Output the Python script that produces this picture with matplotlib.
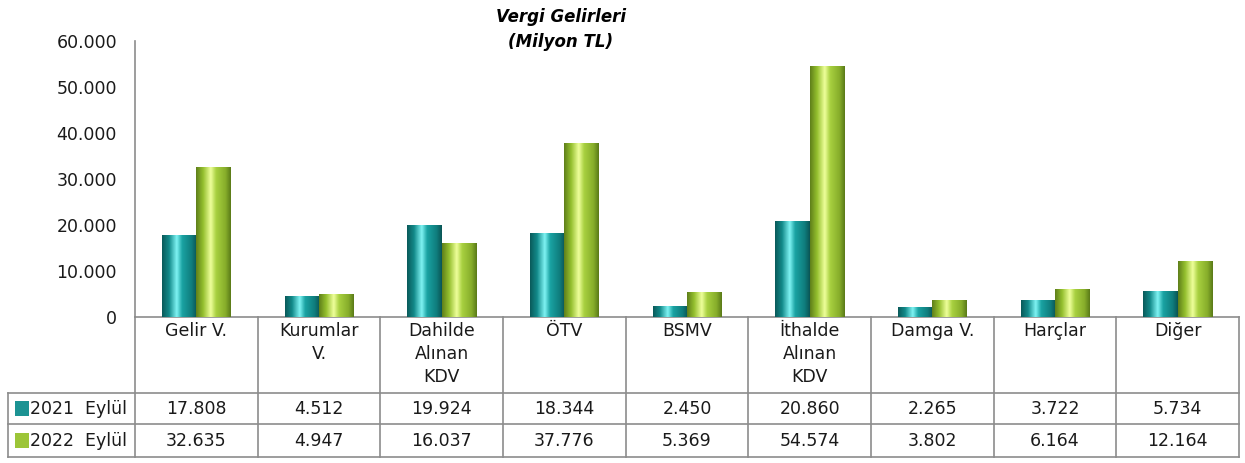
import numpy as np
import matplotlib
matplotlib.use("Agg")
import matplotlib.pyplot as plt
from matplotlib.colors import LinearSegmentedColormap
from matplotlib.ticker import FuncFormatter

# veriler
kategoriler = ["Gelir V.", "Kurumlar\nV.", "Dahilde\nAlınan\nKDV", "ÖTV", "BSMV",
               "İthalde\nAlınan\nKDV", "Damga V.", "Harçlar", "Diğer"]
seriler = ["2021  Eylül", "2022  Eylül"]
v2021 = [17808, 4512, 19924, 18344, 2450, 20860, 2265, 3722, 5734]
v2022 = [32635, 4947, 16037, 37776, 5369, 54574, 3802, 6164, 12164]

def tr_fmt(v):
    return f"{v:,.0f}".replace(",", ".")

plt.rcParams['font.family'] = ['DejaVu Sans']
W, H = 1245, 463
fig = plt.figure(figsize=(W/100, H/100), dpi=100)

def px_ax(x0, y0, x1, y1):
    return fig.add_axes([x0/W, 1-y1/H, (x1-x0)/W, (y1-y0)/H])

gri = "#8c8c8c"
yazi = "#1a1a1a"
ax = px_ax(135, 41, 1239, 317)

renk_teal = LinearSegmentedColormap.from_list("teal", [
    (0.0, "#0a5a5a"), (0.2, "#128a8a"), (0.42, "#7ff3f3"), (0.58, "#1aa3a3"), (0.85, "#0f7d7d"), (1.0, "#0a5555")])
renk_yesil = LinearSegmentedColormap.from_list("yesil", [
    (0.0, "#5f7f1a"), (0.2, "#94bf2e"), (0.42, "#eeff9a"), (0.58, "#a8d040"), (0.85, "#86ad2a"), (1.0, "#5a7a18")])

x = np.arange(len(kategoriler))
bw = 0.28
grad = np.linspace(0, 1, 128)[None, :]
for vals, off, cmap in [(v2021, -bw/2, renk_teal), (v2022, bw/2, renk_yesil)]:
    bars = ax.bar(x + off, vals, width=bw, color=cmap(0.5), edgecolor="none", zorder=2)
    for p in bars:
        x0, y0 = p.get_x(), p.get_y()
        im = ax.imshow(grad, extent=[x0, x0 + p.get_width(), y0, y0 + p.get_height()],
                       aspect="auto", cmap=cmap, zorder=3)
        im.set_clip_path(p)

ax.set_xlim(-0.5, len(kategoriler) - 0.5)
ax.set_ylim(0, 60000)
ax.set_yticks(np.arange(0, 60001, 10000))
ax.yaxis.set_major_formatter(FuncFormatter(lambda v, p: tr_fmt(v)))
ax.tick_params(axis="y", length=0, labelsize=12.5, pad=13, labelcolor=yazi)
ax.set_xticks([])
for s in ["top", "right"]:
    ax.spines[s].set_visible(False)
ax.spines["left"].set_color(gri)
ax.spines["bottom"].set_color(gri)
ax.spines["left"].set_linewidth(1.2)
ax.spines["bottom"].set_linewidth(1.2)

fig.text(561/W, 1-17/H, "Vergi Gelirleri", ha="center", va="center",
         fontsize=12, fontweight="bold", fontstyle="italic")
fig.text(561/W, 1-42/H, "(Milyon TL)", ha="center", va="center",
         fontsize=12, fontweight="bold", fontstyle="italic")

# tablo
tx = px_ax(8, 317, 1239, 457)
cw = 1104 / 9
tx.set_xlim(-0.5 - 127/cw, len(kategoriler) - 0.5)
tx.set_ylim(140, 0)
tx.axis("off")
sol = -0.5 - 127/cw
lw = 1.2
tx.plot([sol, 8.5], [76, 76], color=gri, lw=lw, clip_on=False)
tx.plot([sol, 8.5], [107, 107], color=gri, lw=lw, clip_on=False)
tx.plot([sol, 8.5], [140, 140], color=gri, lw=lw, clip_on=False)
tx.plot([sol, sol], [76, 140], color=gri, lw=lw, clip_on=False)
for k in range(len(kategoriler) + 1):
    tx.plot([k - 0.5, k - 0.5], [0, 140], color=gri, lw=lw, clip_on=False)
for i, kat in enumerate(kategoriler):
    tx.text(i, 5, kat, ha="center", va="top", fontsize=12.5, linespacing=1.35, color=yazi)
    tx.text(i, 91.5, tr_fmt(v2021[i]), ha="center", va="center", fontsize=12.5, color=yazi)
    tx.text(i, 123.5, tr_fmt(v2022[i]), ha="center", va="center", fontsize=12.5, color=yazi)
for yy, ad, cmap in [(91.5, seriler[0], renk_teal), (123.5, seriler[1], renk_yesil)]:
    tx.scatter([sol + 14/cw], [yy], marker="s", s=110, color=cmap(0.22), edgecolor="none", clip_on=False)
    tx.text(sol + 22/cw, yy, ad, ha="left", va="center", fontsize=12.5, color=yazi)

fig.savefig("out.png", dpi=100)
